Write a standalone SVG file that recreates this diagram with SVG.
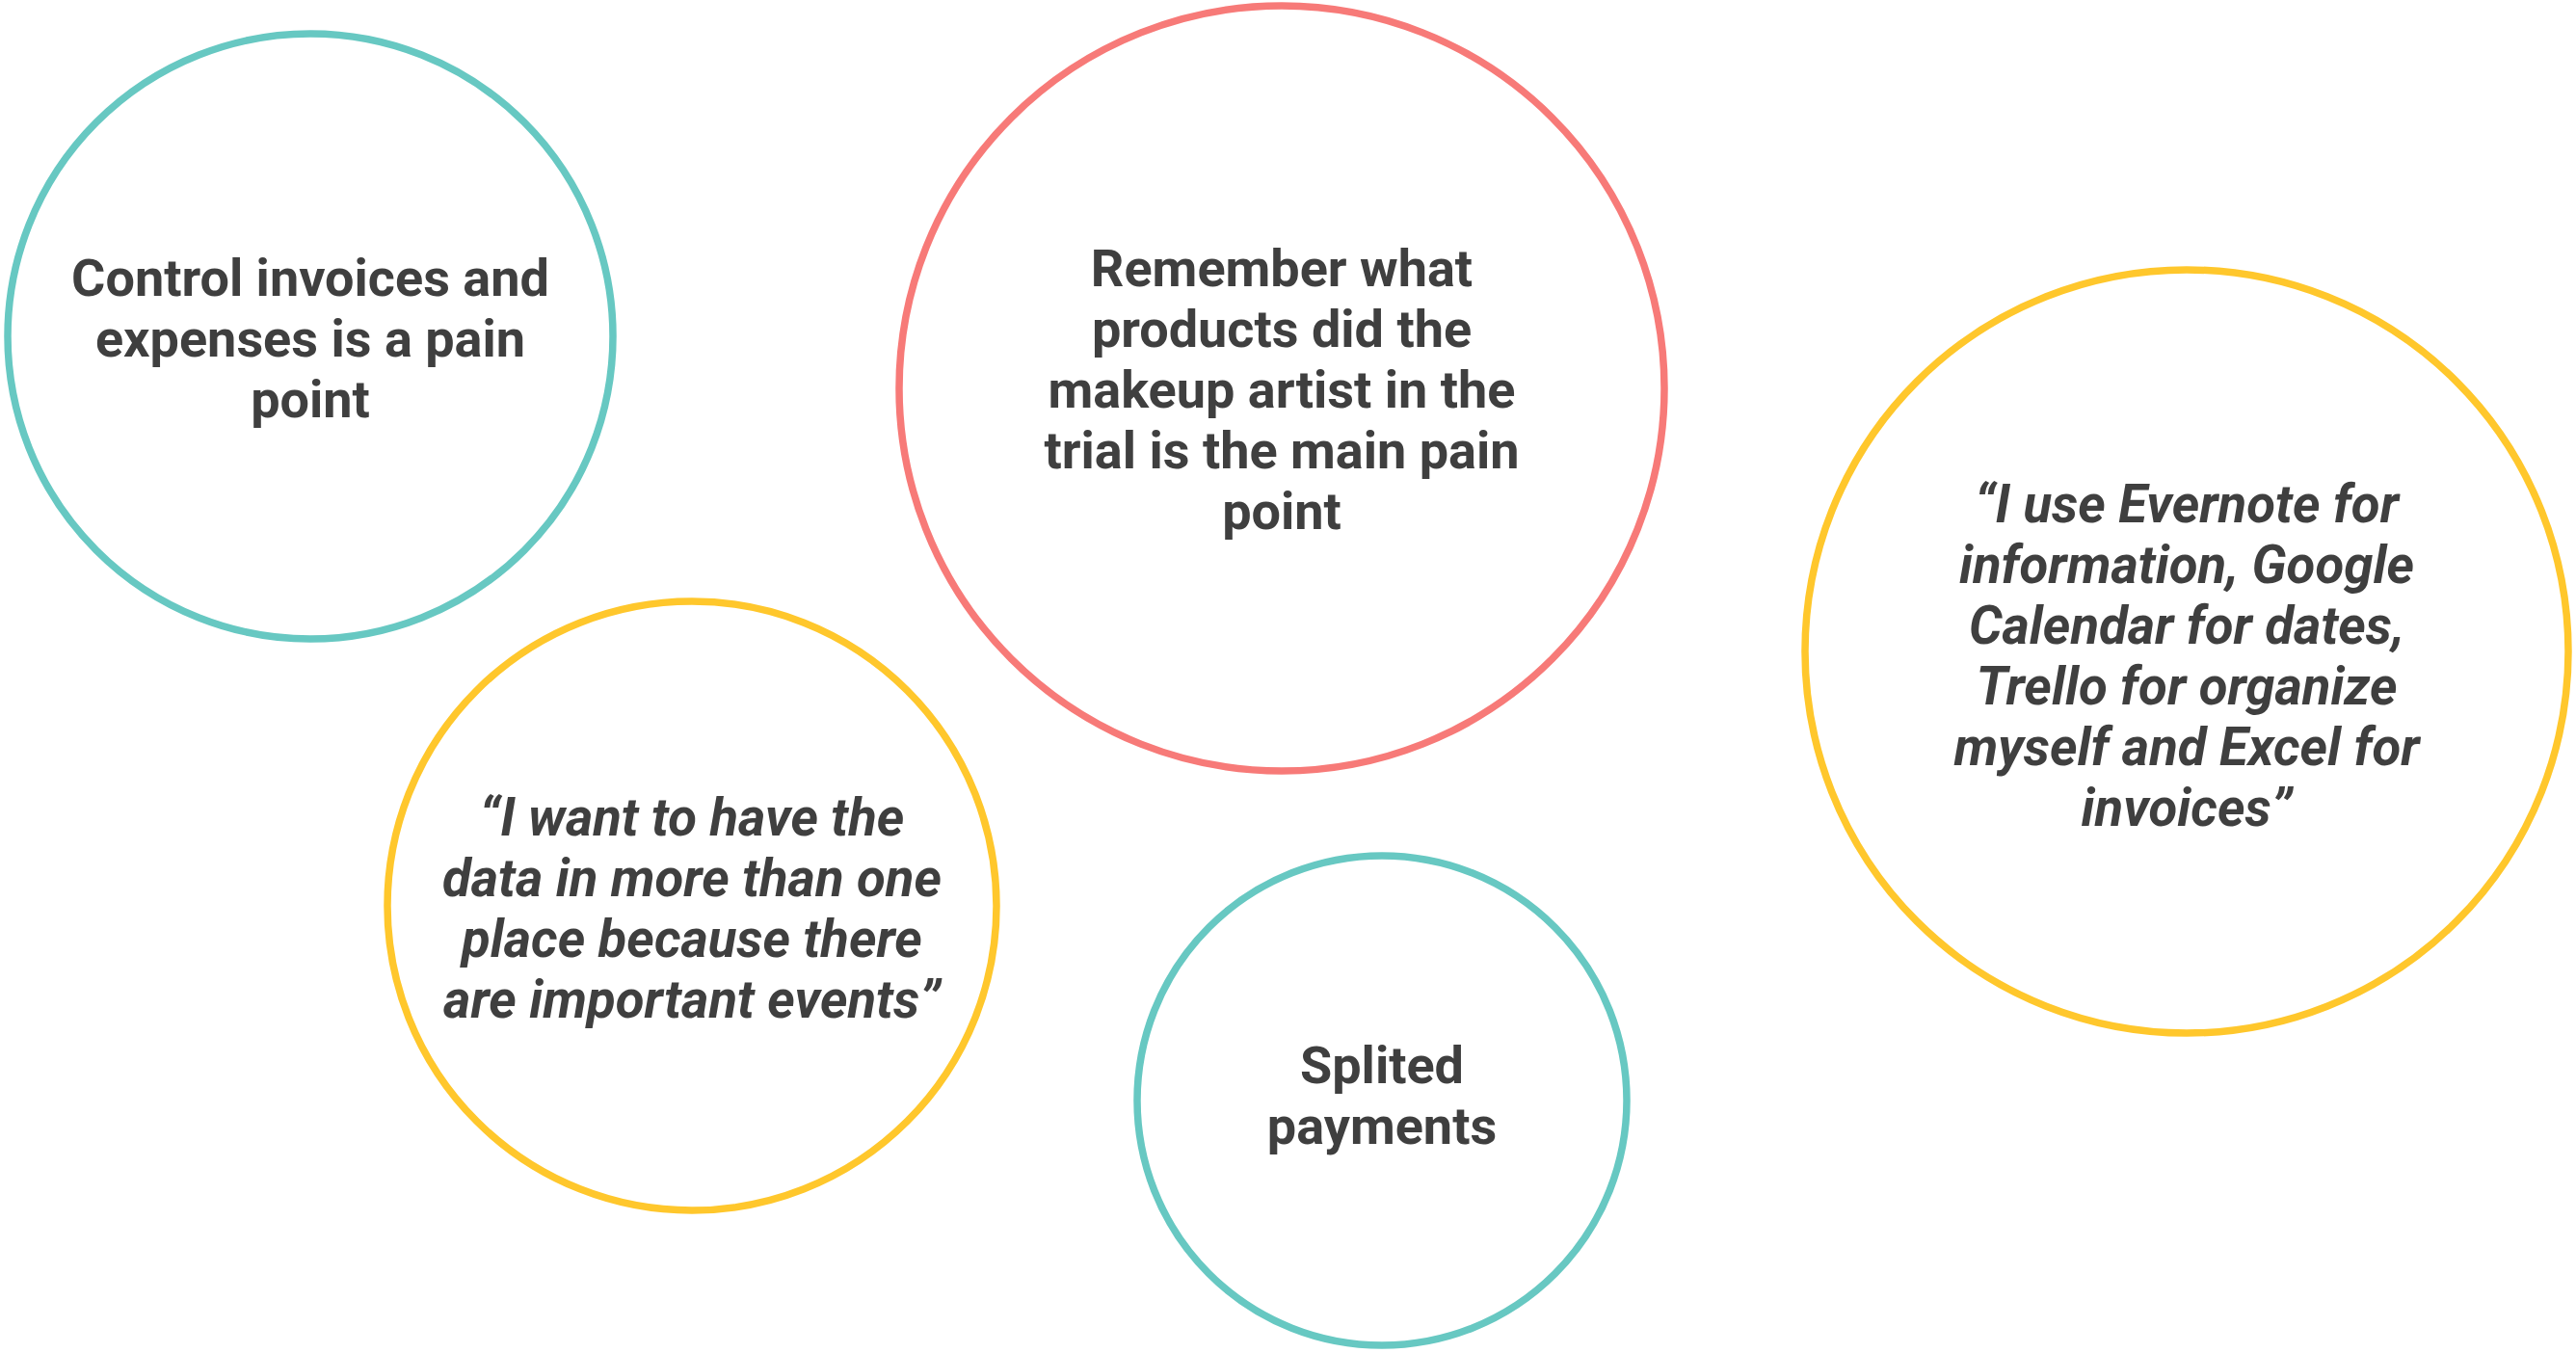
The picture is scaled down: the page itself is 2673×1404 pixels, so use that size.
<svg xmlns="http://www.w3.org/2000/svg" width="2673" height="1404" viewBox="0 0 2673 1404">
<style>
.c{fill:#ffffff;stroke-width:7.5}
.teal{stroke:#67C8C2}
.red{stroke:#F77A78}
.yel{stroke:#FFC72C}
.t{font-family:Roboto,"Liberation Sans",sans-serif;font-weight:700;font-size:54px;fill:#3f3f3f;text-anchor:middle}
.i{font-style:italic;font-size:54.5px}
</style>
<rect width="2673" height="1404" fill="#ffffff"/>
<g id="connectors"></g>
<g id="node-invoices">
<circle class="c teal" cx="322" cy="349" r="314"/>
<text class="t" x="322"><tspan x="322" y="307">Control invoices and</tspan><tspan x="322" y="370">expenses is a pain</tspan><tspan x="322" y="433">point</tspan></text>
</g>
<g id="node-products">
<circle class="c red" cx="1330" cy="403" r="397"/>
<text class="t" x="1330"><tspan x="1330" y="297">Remember what</tspan><tspan x="1330" y="360">products did the</tspan><tspan x="1330" y="423">makeup artist in the</tspan><tspan x="1330" y="486">trial is the main pain</tspan><tspan x="1330" y="549">point</tspan></text>
</g>
<g id="node-data">
<circle class="c yel" cx="718" cy="940" r="316"/>
<text class="t i" x="718"><tspan x="718" y="867">“I want to have the</tspan><tspan x="718" y="930">data in more than one</tspan><tspan x="718" y="993">place because there</tspan><tspan x="718" y="1056">are important events”</tspan></text>
</g>
<g id="node-payments">
<circle class="c teal" cx="1434" cy="1142" r="254"/>
<text class="t" x="1434"><tspan x="1434" y="1124">Splited</tspan><tspan x="1434" y="1187">payments</tspan></text>
</g>
<g id="node-tools">
<circle class="c yel" cx="2269" cy="676" r="396"/>
<text class="t i" x="2269"><tspan x="2269" y="542">“I use Evernote for</tspan><tspan x="2269" y="605">information, Google</tspan><tspan x="2269" y="668">Calendar for dates,</tspan><tspan x="2269" y="731">Trello for organize</tspan><tspan x="2269" y="794">myself and Excel for</tspan><tspan x="2269" y="857">invoices”</tspan></text>
</g>
</svg>
